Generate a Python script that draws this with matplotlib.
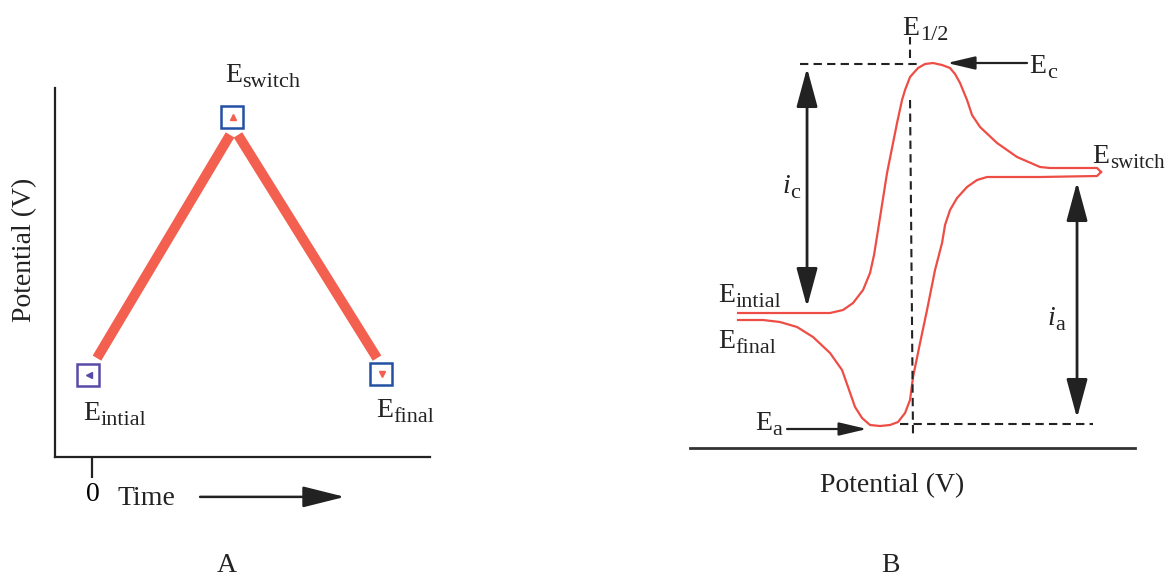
import matplotlib
matplotlib.use("Agg")
import matplotlib.pyplot as plt

plt.rcParams['font.family'] = ['Liberation Serif', 'DejaVu Serif']

# --- panel A: triangular potential sweep (time units, potential units) ---
rise_t = [0.12, 3.67]
rise_E = [2.68, 8.73]
fall_t = [3.88, 7.59]
fall_E = [8.73, 2.68]
point_t = [-0.13, 3.72, 7.69]
point_E = [2.22, 9.21, 2.25]
point_names = ['intial', 'switch', 'final']

# --- panel B: cyclic voltammogram (potential, current) ---
fwd_E = [48, 110, 140, 153, 163, 173, 180, 184, 188, 197, 207, 212, 215, 220,
         228, 235, 243, 252, 260, 265, 270, 277, 282, 290, 307, 327, 350, 360,
         407, 411]
fwd_i = [135, 135, 135, 138, 145, 158, 175, 193, 218, 275, 325, 348, 358, 371,
         380, 384, 385, 383, 380, 374, 365, 348, 333, 321, 305, 291, 281, 280,
         280, 276]
rev_E = [411, 407, 350, 297, 287, 277, 267, 260, 255, 252, 245, 237, 230, 223,
         220, 215, 208, 200, 190, 180, 172, 165, 158, 152, 140, 123, 107, 90,
         73, 48]
rev_i = [276, 272, 271, 271, 268, 261, 250, 238, 223, 205, 178, 138, 105, 71,
         48, 35, 26, 23, 22, 23, 30, 41, 61, 78, 95, 111, 121, 126,
         128, 128]
peak_c = (243, 385)
peak_a = (190, 23)
half_wave_E = 220

red_thick = '#f3604f'
red_thin = '#ee4d45'
ink = '#222222'

fig = plt.figure(figsize=(11.67, 5.78), dpi=100)


def e_label(ax, x, y, sub, main='E', size=20, subsize=16, italic=False):
    t = ax.text(x, y, main, fontsize=size, ha='left', va='baseline',
                style='italic' if italic else 'normal', color=ink)
    ax.annotate(sub, xy=(1, 0), xycoords=t, xytext=(0.5, 0.5),
                textcoords='offset points', fontsize=subsize, ha='left',
                va='baseline', color=ink)


def arrow(ax, tail, head, style, lw=1.6):
    ax.annotate('', xy=head, xytext=tail, annotation_clip=False,
                arrowprops=dict(arrowstyle=style, color=ink, lw=lw,
                                shrinkA=0, shrinkB=0, mutation_scale=10))


# ---------------- panel A ----------------
ax_a = fig.add_axes([0.0471, 0.2093, 0.3213, 0.6384])
ax_a.set_xlim(-1, 9)
ax_a.set_ylim(0, 10)
for side in ['top', 'right']:
    ax_a.spines[side].set_visible(False)
for side in ['left', 'bottom']:
    ax_a.spines[side].set_linewidth(1.6)
    ax_a.spines[side].set_color(ink)
ax_a.set_yticks([])
ax_a.set_xticks([0])
ax_a.set_xticklabels(['0'], fontsize=20)
ax_a.tick_params(axis='x', length=15, width=1.6, color=ink, pad=3)
ax_a.patch.set_alpha(0)

ax_a.plot(rise_t, rise_E, color=red_thick, lw=7.2, solid_capstyle='butt')
ax_a.plot(fall_t, fall_E, color=red_thick, lw=7.2, solid_capstyle='butt')

box_colors = ['#5a4aa8', '#2350a3', '#2350a3']
inner_marks = ['<', '^', 'v']
inner_colors = ['#5a4aa8', '#f3604f', '#f3604f']
for t, e, bc, m, ic in zip(point_t, point_E, box_colors, inner_marks, inner_colors):
    ax_a.plot(t, e, marker='s', ms=15.5, mfc='white', mec=bc, mew=1.8,
              clip_on=False)
    ax_a.plot(t + 0.03, e, marker=m, ms=5, color=ic, clip_on=False)

e_label(ax_a, -0.25, 1.00, point_names[0])
e_label(ax_a, 3.53, 10.16, point_names[1])
e_label(ax_a, 7.56, 1.08, point_names[2])

ax_a.text(0.68, -1.30, 'Time', fontsize=20, ha='left', va='baseline', color=ink)
arrow(ax_a, (2.87, -1.08), (6.73, -1.08), '-|>,head_length=2.6,head_width=0.65', lw=1.8)
ax_a.text(-1.8, 5.61, 'Potential (V)', fontsize=20, rotation=90,
          ha='center', va='center', color=ink)
ax_a.text(3.59, -3.12, 'A', fontsize=20, ha='center', va='baseline', color=ink)

# ---------------- panel B ----------------
ax_b = fig.add_axes([0.5913, 0.2249, 0.3813, 0.7578])
ax_b.set_xlim(0, 445)
ax_b.set_ylim(0, 438)
for side in ['top', 'right', 'left']:
    ax_b.spines[side].set_visible(False)
ax_b.spines['bottom'].set_linewidth(2)
ax_b.spines['bottom'].set_color('#333333')
ax_b.set_xticks([])
ax_b.set_yticks([])
ax_b.patch.set_alpha(0)

ax_b.plot(fwd_E, fwd_i, color=red_thin, lw=1.6, clip_on=False)
ax_b.plot(rev_E, rev_i, color=red_thin, lw=1.6, clip_on=False)

dash = dict(color=ink, lw=1.5, linestyle=(0, (4, 2.5)), clip_on=False)
ax_b.plot([110, peak_c[0] - 15], [peak_c[1] - 1, peak_c[1] - 1], **dash)
ax_b.plot([half_wave_E, half_wave_E], [390, 411], **dash)
ax_b.plot([half_wave_E, half_wave_E + 3], [348, 11], **dash)
ax_b.plot([peak_a[0] + 20, 403], [peak_a[1] + 1, peak_a[1] + 1], **dash)

# peak current arrows
arrow(ax_b, (117, 141), (117, 380), '<|-|>,head_length=2.4,head_width=0.65', lw=2)
arrow(ax_b, (387, 30), (387, 266), '<|-|>,head_length=2.4,head_width=0.65', lw=2)
# peak potential pointers
arrow(ax_b, (337, 385), (257, 385), '-|>,head_length=1.7,head_width=0.4')
arrow(ax_b, (97, 19), (177, 19), '-|>,head_length=1.7,head_width=0.4')

e_label(ax_b, 212, 413, '1/2')
e_label(ax_b, 339, 375, 'c')
e_label(ax_b, 402, 285, 'switch', subsize=15)
e_label(ax_b, 28, 146, 'intial')
e_label(ax_b, 28, 100, 'final')
e_label(ax_b, 65, 18, 'a')
e_label(ax_b, 92, 255, 'c', main='i', italic=True)
e_label(ax_b, 357, 123, 'a', main='i', italic=True)

ax_b.text(202, -44, 'Potential (V)', fontsize=20, ha='center', va='baseline', color=ink)
ax_b.text(200, -124, 'B', fontsize=20, ha='center', va='baseline', color=ink)

fig.savefig('out.png', dpi=100)
